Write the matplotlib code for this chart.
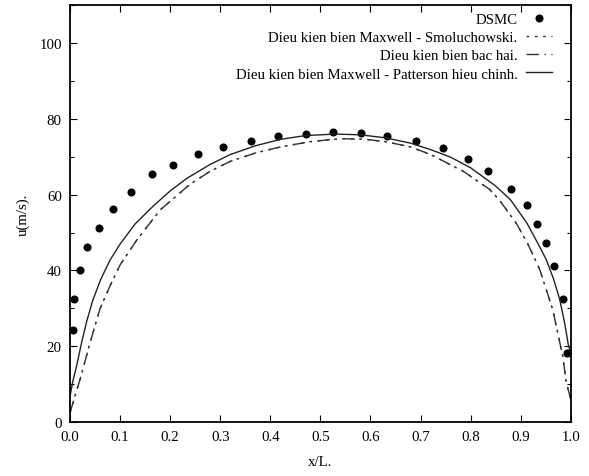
import matplotlib
matplotlib.use("Agg")
import matplotlib.pyplot as plt
import matplotlib.ticker as mticker

plt.rcParams["font.family"] = ["Liberation Serif", "DejaVu Serif"]
plt.rcParams["font.size"] = 10.7

# ── Data ──────────────────────────────────────────────────────────────────────
dsmc_x = [0.005, 0.008, 0.019, 0.033, 0.058, 0.085, 0.121, 0.164, 0.206, 0.255,
          0.305, 0.361, 0.415, 0.472, 0.526, 0.581, 0.633, 0.691, 0.745, 0.794,
          0.835, 0.880, 0.912, 0.933, 0.950, 0.966, 0.985, 0.993]
dsmc_u = [24.2, 32.4, 40.2, 46.1, 51.3, 56.3, 60.8, 65.5, 67.8, 70.7,
          72.7, 74.3, 75.6, 76.1, 76.6, 76.2, 75.5, 74.2, 72.4, 69.5,
          66.3, 61.5, 57.2, 52.3, 47.3, 41.2, 32.5, 18.3]

# Maxwell - Smoluchowski and bac hai (second order) nearly coincide
slip_x = [0.000, 0.010, 0.020, 0.040, 0.060, 0.080, 0.100, 0.133, 0.180, 0.240,
          0.280, 0.320, 0.370, 0.420, 0.480, 0.540, 0.590, 0.630, 0.680, 0.720,
          0.785, 0.838, 0.858, 0.892, 0.915, 0.938, 0.964, 0.984, 0.991, 1.000]
smol_u = [2.5, 7.0, 11.3, 21.0, 30.0, 36.0, 41.5, 48.0, 56.0, 62.8,
          66.2, 68.8, 71.0, 72.6, 74.0, 74.8, 74.6, 74.0, 72.6, 70.6,
          66.2, 61.4, 58.5, 52.3, 46.8, 40.3, 29.7, 17.4, 10.5, 6.0]
bachai_u = [2.5, 7.0, 11.3, 21.0, 30.0, 36.0, 41.5, 48.0, 56.0, 62.8,
            66.2, 68.8, 71.0, 72.6, 74.0, 74.8, 74.6, 74.0, 72.6, 70.6,
            66.2, 61.4, 58.5, 52.3, 46.8, 40.3, 29.7, 17.4, 10.5, 6.0]

mp_x = [0.000, 0.005, 0.013, 0.023, 0.033, 0.045, 0.061, 0.080, 0.100, 0.130,
        0.166, 0.200, 0.233, 0.280, 0.320, 0.370, 0.420, 0.470, 0.530, 0.580,
        0.630, 0.680, 0.720, 0.760, 0.800, 0.850, 0.880, 0.912, 0.935, 0.951,
        0.965, 0.978, 0.988, 0.995, 1.000]
mp_u = [6.9, 10.5, 14.8, 21.0, 26.5, 32.0, 37.6, 42.8, 47.0, 52.3,
        57.0, 61.0, 64.3, 68.0, 70.6, 72.9, 74.6, 75.6, 76.0, 75.8,
        75.0, 73.6, 71.9, 69.9, 67.1, 62.3, 58.6, 52.6, 47.0, 42.9,
        38.0, 32.4, 26.0, 20.5, 18.0]

labels = [
    "DSMC",
    "Dieu kien bien Maxwell - Smoluchowski.",
    "Dieu kien bien bac hai.",
    "Dieu kien bien Maxwell - Patterson hieu chinh.",
]

# ── Plot ──────────────────────────────────────────────────────────────────────
fig = plt.figure(figsize=(5.89, 4.77), dpi=100)
ax = fig.add_axes([0.119, 0.113, 0.850, 0.874])

ax.plot(dsmc_x, dsmc_u, linestyle="none", marker="o", markersize=4.8,
        color="black", label=labels[0])
ax.plot(slip_x, smol_u, color="#333333", linewidth=1.0,
        dashes=(2, 4), label=labels[1])
ax.plot(slip_x, bachai_u, color="#333333", linewidth=1.0,
        dashes=(9, 4, 1, 4), label=labels[2])
ax.plot(mp_x, mp_u, color="#222222", linewidth=1.0, label=labels[3])

ax.set_xlim(0, 1)
ax.set_ylim(0, 110)
ax.xaxis.set_major_locator(mticker.MultipleLocator(0.1))
ax.xaxis.set_major_formatter(mticker.FormatStrFormatter("%.1f"))
ax.yaxis.set_major_locator(mticker.MultipleLocator(20))
ax.yaxis.set_minor_locator(mticker.MultipleLocator(10))
ax.tick_params(which="both", direction="in", top=True, right=True,
               labelsize=10.7, pad=6)
ax.tick_params(which="major", length=5, width=0.8)
ax.tick_params(which="minor", length=3, width=0.8)
for sp in ax.spines.values():
    sp.set_linewidth(1.3)

ax.set_xlabel("x/L.", labelpad=8)
ax.set_ylabel("u(m/s).", labelpad=7)

leg = ax.legend(loc="upper right", bbox_to_anchor=(0.962, 0.982),
                frameon=False, markerfirst=False, borderpad=0,
                borderaxespad=0, labelspacing=0.32, handlelength=1.7,
                handletextpad=0.6, fontsize=10.7)
for col in leg._legend_handle_box.get_children():
    col.align = "right"

fig.savefig("out.png", dpi=100)
